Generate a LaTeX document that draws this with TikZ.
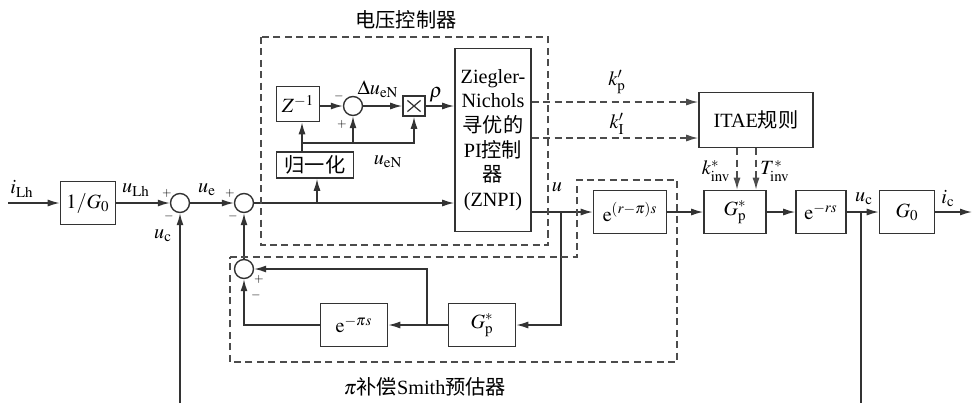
\documentclass[tikz,border=0pt]{standalone}
\usepackage{mathptmx}
\usepackage{fontspec}
\setmainfont{Liberation Serif}
\newfontfamily\cjk{Noto Sans CJK SC}
\usetikzlibrary{arrows.meta,calc}

\tikzset{
  blk/.style={draw=black!80,line width=0.9pt,inner sep=1pt,minimum height=0.86cm},
  sumc/.style={circle,draw=black!80,line width=0.8pt,minimum size=0.38cm,inner sep=0pt},
  ln/.style={draw=black!80,line width=0.8pt},
  sig/.style={-{Latex[length=2.4mm,width=1.4mm]}},
  dsh/.style={draw=black!70,line width=0.8pt,dash pattern=on 4pt off 2.5pt},
  sgn/.style={font=\scriptsize,inner sep=0pt},
}

\begin{document}
\begin{tikzpicture}[x=0.02cm,y=-0.02cm,font=\fontsize{11.5}{14}\selectfont]
\useasboundingbox (0,0) rectangle (973,403);
% blocks
\node[blk,minimum width=1.1cm](invg) at (88,203){$1/G_0$};
\node[sumc](s1) at (180,203){};
\node[sumc](s2) at (244,203){};
\node[sumc](s3) at (244,269){};
\node[blk,minimum width=0.86cm,minimum height=0.7cm](zinv) at (298,104){$Z^{-1}$};
\node[sumc](s4) at (353,106){};
\node[blk,minimum width=0.44cm,minimum height=0.4cm,
  path picture={\draw[line width=0.7pt]
    ([shift={(2.5pt,2.5pt)}]path picture bounding box.south west)--([shift={(-2.5pt,-2.5pt)}]path picture bounding box.north east)
    ([shift={(2.5pt,-2.5pt)}]path picture bounding box.north west)--([shift={(-2.5pt,2.5pt)}]path picture bounding box.south east);}](mul) at (414,106){};
\node[blk,minimum width=1.54cm,minimum height=0.52cm,inner sep=0pt](norm) at (315,165){\cjk 归一化};
\node[blk,minimum width=1.52cm,minimum height=3.66cm,align=center](znpi) at (493,140)
  {Ziegler-\\Nichols\\{\cjk 寻优的}\\PI{\cjk 控制}\\{\cjk 器}\\(ZNPI)};
\node[blk,minimum width=2.28cm,minimum height=1.1cm](itae) at (756,120){ITAE{\cjk 规则}};
\node[blk,minimum width=1.46cm](dly) at (630,212){$\mathrm{e}^{(r-\pi)s}$};
\node[blk,minimum width=1.24cm](gp) at (735,212){$G_{\mathrm{p}}^{*}$};
\node[blk,minimum width=1.0cm](ers) at (821,212){$\mathrm{e}^{-rs}$};
\node[blk,minimum width=1.1cm](g0) at (907,212){$G_0$};
\node[blk,minimum width=1.34cm](gps) at (482,325){$G_{\mathrm{p}}^{*}$};
\node[blk,minimum width=1.34cm](epis) at (354,325){$\mathrm{e}^{-\pi s}$};

% points
\coordinate(in) at (8,203);
\coordinate(out) at (972,212);
\coordinate(fbl) at (180,403);
\coordinate(fbr) at (861,403);
\coordinate(bc) at (861,212);
\coordinate(bu) at (561,212);
\coordinate(bn) at (317,203);
\coordinate(bz) at (302,143);
\coordinate(bg) at (427,325);
\coordinate(kp) at (600,102);
\coordinate(ki) at (600,138);
\coordinate(ka) at (737,160);
\coordinate(kt) at (756,160);

% signals
\draw[ln,sig](in)--(invg);
\draw[ln,sig](invg)--(s1);
\draw[ln,sig](s1)--(s2);
\draw[ln,sig](fbl)--(s1);
\draw[ln,sig](s2)--(s2 -| znpi.west);
\draw[ln,sig](bn)--(norm.south -| bn);
\draw[ln,sig](norm.north -| bz)--(bz)--(zinv.south -| bz);
\draw[ln,sig](bz)-|(s4);
\draw[ln,sig](bz)-|(mul);
\draw[ln,sig](zinv.east |- s4)--(s4);
\draw[ln,sig](s4)--(mul);
\draw[ln,sig](mul)--(mul -| znpi.west);
\draw[ln,sig](znpi.east |- dly)--(dly);
\draw[ln,sig](bu)|-(gps);
\draw[ln,sig](gps)--(epis);
\draw[ln,sig](bg)|-(s3);
\draw[ln,sig](epis)-|(s3);
\draw[ln,sig](s3)--(s2);
\draw[ln,sig](dly)--(gp);
\draw[ln,sig](gp)--(ers);
\draw[ln,sig](ers)--(g0);
\draw[ln](bc)--(fbr);
\draw[ln,sig](g0)--(out);

% tuning
\draw[dsh,sig](znpi.east |- kp)--(itae.west |- kp);
\draw[dsh,sig](znpi.east |- ki)--(itae.west |- ki);
\draw[dsh,sig](itae.south -| ka)--(gp.north -| ka);
\draw[dsh,sig](itae.south -| kt)--(gp.north -| kt);

% frames
\draw[dsh](261,37) rectangle (548,245);
\draw[dsh](230,257)--(577,257)--(577,180)--(677,180)--(677,362)--(230,362)--cycle;

% labels
\node(tvc) at (406,20){\cjk 电压控制器};
\node(tsm) at (425,387){$\pi${\cjk 补偿}Smith{\cjk 预估器}};
\node(lilh) at (22,189){$i_{\mathrm{Lh}}$};
\node(lulh) at (136,190){$u_{\mathrm{Lh}}$};
\node(lue) at (207,190){$u_{\mathrm{e}}$};
\node(luc) at (163,236){$u_{\mathrm{c}}$};
\node(ldu) at (378,89){$\Delta u_{\mathrm{eN}}$};
\node(lun) at (388,162){$u_{\mathrm{eN}}$};
\node(lrho) at (436,95){$\rho$};
\node(lu) at (557,187){$u$};
\node(lkp) at (617,82){$k_{\mathrm{p}}'$};
\node(lki) at (617,124){$k_{\mathrm{I}}'$};
\node(lka) at (716,171){$k_{\mathrm{inv}}^{*}$};
\node(lkt) at (775,171){$T_{\mathrm{inv}}^{*}$};
\node(luc2) at (864,199){$u_{\mathrm{c}}$};
\node(lic) at (948,199){$i_{\mathrm{c}}$};
% signs
\node[sgn](p1) at (167,193){$+$};
\node[sgn](m1) at (169,216){$-$};
\node[sgn](p2) at (230,193){$+$};
\node[sgn](m2) at (233,216){$-$};
\node[sgn](p3) at (259,279){$+$};
\node[sgn](m3) at (256,295){$-$};
\node[sgn](m4) at (339,96){$-$};
\node[sgn](p4) at (342,124){$+$};
\end{tikzpicture}
\end{document}
